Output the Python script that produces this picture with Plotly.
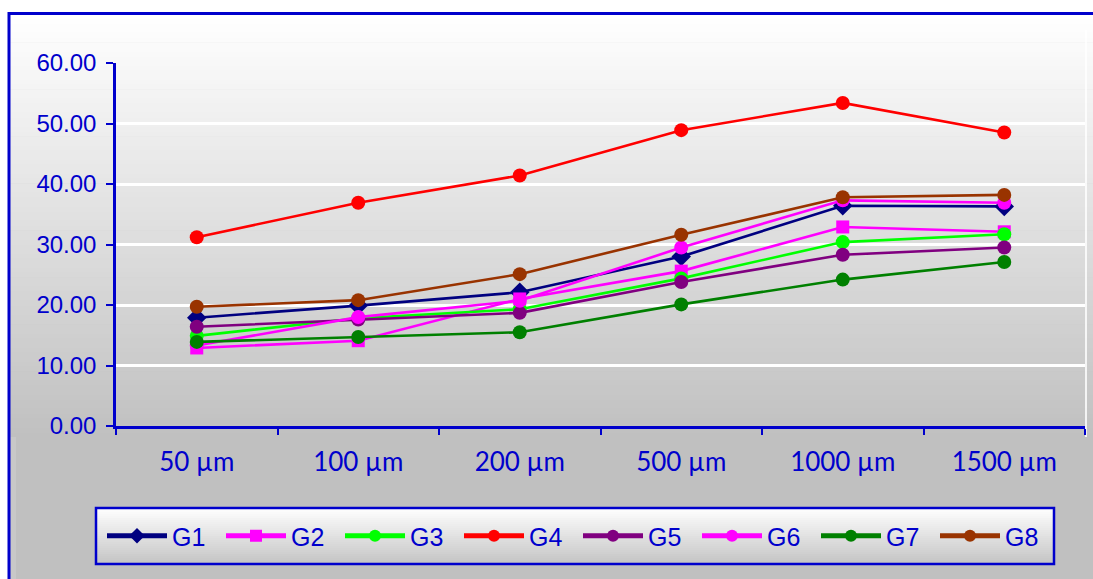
import plotly.graph_objects as go

# Categories along the x axis
categories = ["50 µm", "100 µm", "200 µm", "500 µm", "1000 µm", "1500 µm"]

# Series values
G1 = [17.9, 19.9, 22.1, 28.0, 36.4, 36.3]
G2 = [12.9, 14.1, 21.0, 25.6, 32.9, 32.1]
G3 = [14.9, 17.8, 19.3, 24.4, 30.4, 31.7]
G4 = [31.2, 36.9, 41.4, 48.9, 53.4, 48.5]
G5 = [16.4, 17.6, 18.7, 23.8, 28.3, 29.5]
G6 = [13.3, 18.0, 20.7, 29.5, 37.3, 36.9]
G7 = [13.9, 14.7, 15.5, 20.1, 24.2, 27.1]
G8 = [19.7, 20.8, 25.1, 31.6, 37.8, 38.2]

series_names = ["G1", "G2", "G3", "G4", "G5", "G6", "G7", "G8"]
series_values = [G1, G2, G3, G4, G5, G6, G7, G8]

# y axis ticks
y_ticks = [0, 10, 20, 30, 40, 50, 60]

colors = ["#000080", "#FF00FF", "#00FF00", "#FF0000",
          "#800080", "#FF00FF", "#008000", "#993300"]
symbols = ["diamond", "square", "circle", "circle",
           "circle", "circle", "circle", "circle"]
sizes = [15, 13, 14, 14, 14, 14, 14, 14]

BLUE = "#0000CC"
W, H = 1093, 579
L, R, T, B = 116, 8, 63, 153
PW = W - L - R
PH = H - T - B


def px_x(x):
    return (x - L) / PW


def px_y(y):
    return (H - B - y) / PH


def mix(c0, c1, t):
    return "rgb(%d,%d,%d)" % tuple(round(a + (b - a) * t) for a, b in zip(c0, c1))


def gradient(x0, y0, x1, y1, top, bottom, n):
    out = []
    step = (y1 - y0) / n
    for i in range(n):
        ya = y0 + i * step
        yb = ya + step + 0.6
        out.append(dict(type="rect", xref="paper", yref="paper", layer="below",
                        x0=px_x(x0), x1=px_x(x1), y0=px_y(ya), y1=px_y(min(yb, y1)),
                        fillcolor=mix(top, bottom, (i + 0.5) / n),
                        line=dict(width=0)))
    return out


shapes = []
# chart area: grey base, then a white-to-grey gradient over the plotting region
shapes.append(dict(type="rect", xref="paper", yref="paper", layer="below",
                   x0=px_x(8), x1=px_x(W + 5), y0=px_y(13), y1=px_y(H + 5),
                   fillcolor="#c0c0c0", line=dict(width=0)))
shapes.append(dict(type="rect", xref="paper", yref="paper", layer="below",
                   x0=px_x(9), x1=px_x(16), y0=px_y(437), y1=px_y(H + 5),
                   fillcolor="#c8c8c8", line=dict(width=0)))
shapes += gradient(9, 14, W + 5, 437, (255, 255, 255), (192, 192, 192), 90)
# thin light edge at the right end of the plotting region
shapes.append(dict(type="line", xref="paper", yref="paper", layer="below",
                   x0=px_x(1086), x1=px_x(1086), y0=px_y(30), y1=px_y(437),
                   line=dict(color="rgba(255,255,255,0.8)", width=2)))
# legend box gradient and frame
shapes += gradient(96, 508, 1054, 564, (255, 255, 255), (196, 196, 196), 28)
shapes.append(dict(type="rect", xref="paper", yref="paper", layer="below",
                   x0=px_x(96), x1=px_x(1054), y0=px_y(508), y1=px_y(564),
                   line=dict(color=BLUE, width=2.5), fillcolor="rgba(0,0,0,0)"))
# outer chart border (left and top edges)
shapes.append(dict(type="line", xref="paper", yref="paper", layer="above",
                   x0=px_x(9), x1=px_x(9), y0=px_y(12), y1=px_y(H + 5),
                   line=dict(color=BLUE, width=3)))
shapes.append(dict(type="line", xref="paper", yref="paper", layer="above",
                   x0=px_x(8), x1=px_x(W + 5), y0=px_y(13.5), y1=px_y(13.5),
                   line=dict(color=BLUE, width=3)))

fig = go.Figure()
for name, vals, col, sym, sz in zip(series_names, series_values, colors, symbols, sizes):
    fig.add_trace(go.Scatter(
        x=categories, y=vals, name=name, mode="lines+markers",
        line=dict(color=col, width=2.6),
        marker=dict(color=col, symbol=sym, size=sz, line=dict(width=0)),
    ))

fig.update_layout(
    width=W, height=H,
    margin=dict(l=L, r=R, t=T, b=B, autoexpand=False),
    paper_bgcolor="white",
    plot_bgcolor="rgba(0,0,0,0)",
    shapes=shapes,
    showlegend=True,
    legend=dict(
        orientation="h",
        xref="container", yref="container",
        x=102 / W, y=1 - 536 / H, xanchor="left", yanchor="middle",
        entrywidth=44, entrywidthmode="pixels",
        itemwidth=60, itemsizing="constant",
        bgcolor="rgba(0,0,0,0)", borderwidth=0,
        font=dict(family="Liberation Sans, Arial", size=25, color=BLUE),
        traceorder="normal",
    ),
    xaxis=dict(
        type="category", range=[-0.5, len(categories) - 0.5],
        tickson="boundaries", ticks="outside", ticklen=6, tickwidth=2, tickcolor=BLUE,
        showline=True, linecolor=BLUE, linewidth=2.5, showgrid=False,
        ticklabelstandoff=11,
        tickfont=dict(family="Lato, Open Sans", size=26, color=BLUE),
    ),
    yaxis=dict(
        range=[0, 60], tickvals=y_ticks, tickformat=".2f",
        ticks="outside", ticklen=7, tickwidth=2, tickcolor=BLUE,
        showline=True, linecolor=BLUE, linewidth=2.5,
        showgrid=True, gridcolor="white", gridwidth=2.5, zeroline=False,
        ticklabelstandoff=5,
        tickfont=dict(family="Liberation Sans, Arial", size=24, color=BLUE),
    ),
)

fig.write_html("out.html")
